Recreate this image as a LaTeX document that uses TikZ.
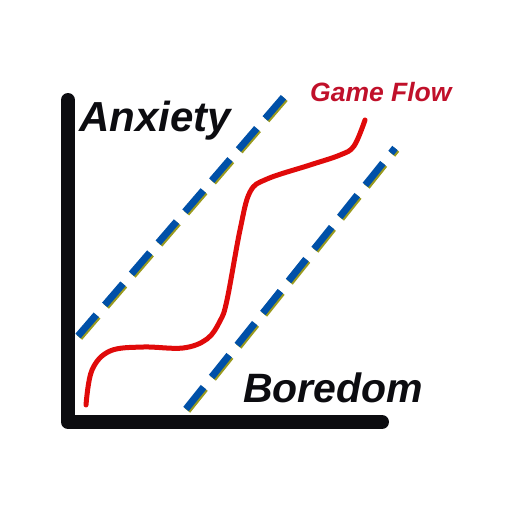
\documentclass[tikz,border=0pt]{standalone}
\usepackage{fontspec}
\setmainfont{Liberation Sans}
\usepackage{tikz}
\definecolor{AxisBlack}{HTML}{0C0C10}
\definecolor{BandBlue}{HTML}{0050A8}
\definecolor{BandShade}{HTML}{9A9A1E}
\definecolor{FlowRed}{HTML}{E00A0A}
\definecolor{TitleRed}{HTML}{C0102A}

\begin{document}
\begin{tikzpicture}[x=1pt,y=-1pt, every node/.style={font=\bfseries\itshape, inner sep=0pt},
  bandline/.style={line width=7pt, dash pattern=on 28pt off 13pt}]
  \useasboundingbox (0,0) rectangle (512,512);
  % axes
  \coordinate (top) at (68,100);
  \coordinate (corner) at (68,422);
  \coordinate (right) at (382,422);
  \draw[AxisBlack, line width=14pt, line cap=round, line join=round] (top) -- (corner) -- (right);
  % flow channel
  \coordinate (upA) at (78,336);
  \coordinate (upB) at (288,92);
  \coordinate (loA) at (186,409);
  \coordinate (loB) at (395,148);
  \draw[bandline, BandShade] ([shift={(1.5,1.5)}]upA) -- ([shift={(1.5,1.5)}]upB);
  \draw[bandline, BandBlue] (upA) -- (upB);
  \draw[bandline, BandShade] ([shift={(1.5,1.5)}]loA) -- ([shift={(1.5,1.5)}]loB);
  \draw[bandline, BandBlue] (loA) -- (loB);
  % player path
  \draw[FlowRed, line width=5pt, line cap=round] plot[smooth, tension=0.6] coordinates {
    (86,405) (92,370) (110,351) (143,347) (183,348) (207,339) (220,321) (227,300)
    (240,230) (250,192) (267,179) (310,165) (340,155) (354,146) (365,120)};
  % labels
  \node[anchor=base west, font=\fontsize{42}{42}\selectfont\bfseries\itshape, AxisBlack] (anxiety) at (79,131) {Anxiety};
  \node[anchor=base west, font=\fontsize{41}{41}\selectfont\bfseries\itshape, AxisBlack] (boredom) at (243,402) {Boredom};
  \node[anchor=base west, font=\fontsize{26.5}{26.5}\selectfont\bfseries\itshape, TitleRed] (gameflow) at (310,101) {Game Flow};
\end{tikzpicture}
\end{document}
